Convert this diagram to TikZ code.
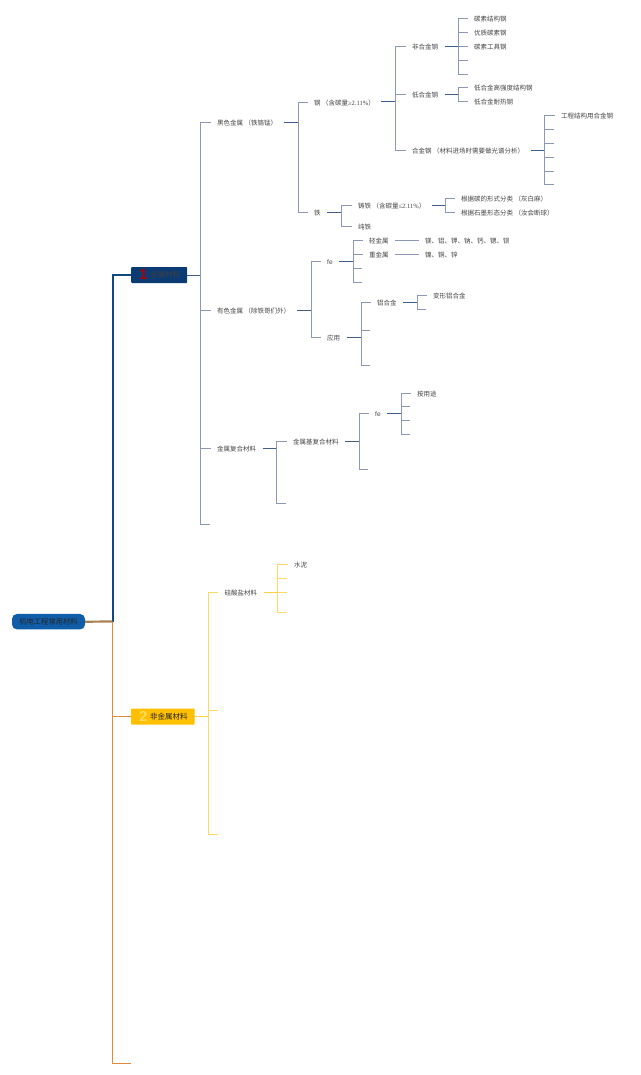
\documentclass[tikz,border=0pt]{standalone}
\usepackage{fontspec}
\setmainfont{Noto Sans CJK SC}
\newfontfamily\lsf{Liberation Sans}
\newfontfamily\lser{Liberation Serif}
\definecolor{tx}{HTML}{454545}
\definecolor{vl}{HTML}{8C98B4}
\definecolor{cn}{HTML}{3F5F8C}
\definecolor{navy}{HTML}{0F4A85}
\definecolor{org}{HTML}{E28A3A}
\definecolor{brn}{HTML}{A98252}
\definecolor{ylw}{HTML}{FFD966}
\definecolor{ylwd}{HTML}{FFCF40}
\definecolor{rootfill}{HTML}{0F5CA8}
\definecolor{b1fill}{HTML}{0B3B72}
\definecolor{b2fill}{HTML}{FFC000}
\tikzset{
 tn/.style={anchor=west,inner xsep=6.5pt,inner ysep=0pt,text height=6.4pt,text depth=0pt,font=\fontsize{6.5}{7}\selectfont,text=tx},
 sn/.style={inner sep=0pt,minimum size=0pt,outer sep=0pt},
 vline/.style={draw=vl,line width=.8pt},
 conn/.style={draw=cn,line width=1pt},
 yvline/.style={draw=ylw,line width=1pt},
 yconn/.style={draw=ylwd,line width=1pt},
 rootbox/.style={rounded corners=5pt,fill=rootfill,minimum height=15.5pt,minimum width=73pt,inner sep=0pt,font=\fontsize{7.3}{8}\selectfont,text=black!85},
 mbox/.style={anchor=west,rounded corners=.8pt,minimum height=16pt,inner sep=0pt,font=\fontsize{7.5}{8}\selectfont},
 numtxt/.style={inner sep=0pt,font=\lsf\bfseries\fontsize{14.5}{15}\selectfont},
}
\newcommand{\tnode}[4]{\node[tn] (#1) at (#2,#3) {#4};}
\newcommand{\snode}[3]{\node[sn] (#1) at (#2,#3) {};}
\newcommand{\branch}[4]{\coordinate (j#1) at (#2,#3);
 \draw[conn] (#1.east) -- (j#1);
 \foreach \c in {#4} \draw[vline] (j#1) |- (\c.west);}
\newcommand{\ybranch}[4]{\coordinate (j#1) at (#2,#3);
 \draw[yconn] (#1.east) -- (j#1);
 \foreach \c in {#4} \draw[yvline] (j#1) |- (\c.west);}
\begin{document}
\begin{tikzpicture}[x=1pt,y=-1pt]
\useasboundingbox (0,0) rectangle (640,1075);
\fill[white] (0,0) rectangle (640,1075);
% main boxes
\node[rootbox] (root) at (48.5,621.7) {机电工程常用材料};
\node[mbox,fill=b1fill,minimum width=56pt] (b1) at (131,275) {\hspace*{19pt}\textcolor{black!75}{金属材料}\hspace*{7pt}};
\node[numtxt,text=red!70!black] (n1) at (143.5,275) {1};
\node[mbox,fill=b2fill,minimum width=63.5pt] (b2) at (131,716.5) {\hspace*{19pt}\textcolor{black!85}{非金属材料}\hspace*{7pt}};
\node[numtxt,text=ylw] (n2) at (143.5,716.5) {2};
\snode{tend}{131}{1063.5}
\coordinate (tr) at (112.5,621.5);
\draw[draw=navy,line width=2pt] (tr) |- (b1.west);
\draw[draw=org,line width=1.1pt] (tr) |- (b2.west);
\draw[draw=org,line width=1.1pt] (tr) |- (tend.west);
\draw[draw=brn,line width=2.2pt] (root.east) -- (tr);
% level 1, metal
\tnode{hs}{210.5}{122.5}{黑色金属 （铁铬锰）}
\tnode{ys}{210.5}{310}{有色金属 （除铁哥们外）}
\tnode{fh}{210.5}{448.5}{金属复合材料}
\snode{fe0}{210}{524.5}
\branch{b1}{200.5}{275}{hs,ys,fh,fe0}
% steel and iron
\tnode{g}{307.5}{102}{钢 （含碳量{\lser≥2.11\%}）}
\tnode{t}{307.5}{212.5}{铁}
\branch{hs}{298}{122.5}{g,t}
\tnode{fhj}{405.5}{46.5}{非合金钢}
\tnode{dhj}{405.5}{94.5}{低合金钢}
\tnode{hj}{405.5}{150.5}{合金钢 （材料进场时需要做光谱分析）}
\branch{g}{395}{102}{fhj,dhj,hj}
\tnode{a1}{467.5}{18.5}{碳素结构钢}
\tnode{a2}{467.5}{32.5}{优质碳素钢}
\tnode{a3}{467.5}{46.5}{碳素工具钢}
\snode{a4}{468}{60}
\snode{a5}{468}{74}
\branch{fhj}{458}{46.5}{a1,a2,a3,a4,a5}
\tnode{c1}{467.5}{87.5}{低合金高强度结构钢}
\tnode{c2}{467.5}{101.5}{低合金耐热钢}
\branch{dhj}{458}{94.5}{c1,c2}
\tnode{d1}{554.5}{115.5}{工程结构用合金钢}
\snode{d2}{554}{129.5}
\snode{d3}{554}{143}
\snode{d4}{554}{157}
\snode{d5}{554}{171}
\snode{d6}{554}{184.5}
\branch{hj}{544.5}{150.5}{d1,d2,d3,d4,d5,d6}
\tnode{zt}{351.5}{205.5}{铸铁 （含碳量{\lser≤2.11\%}）}
\tnode{ct}{351.5}{226.5}{纯铁}
\branch{t}{341}{212.5}{zt,ct}
\tnode{e1}{454.5}{198.5}{根据碳的形式分类 （灰白麻）}
\tnode{e2}{454.5}{212.5}{根据石墨形态分类 （汝会断球）}
\branch{zt}{445}{205.5}{e1,e2}
% non-ferrous
\tnode{fea}{320.5}{261}{{\lsf fe}}
\tnode{yy}{320.5}{337.5}{应用}
\branch{ys}{311}{310}{fea,yy}
\tnode{qj}{362.5}{240.5}{轻金属}
\tnode{zj}{362.5}{254.5}{重金属}
\snode{f3}{362}{268}
\snode{f4}{362}{282}
\branch{fea}{353}{261}{qj,zj,f3,f4}
\tnode{qv}{418.5}{240.5}{镁、铝、钾、钠、钙、锶、钡}
\tnode{zv}{418.5}{254.5}{镍、铜、锌}
\draw[vline] (qj.east) -- (qv.west);
\draw[vline] (zj.east) -- (zv.west);
\tnode{lh}{370.5}{302.5}{铝合金}
\snode{g2}{370}{330.5}
\snode{g3}{370}{365}
\branch{yy}{361}{337.5}{lh,g2,g3}
\tnode{bx}{426.5}{295.5}{变形铝合金}
\snode{h2}{426}{309.5}
\branch{lh}{417}{302.5}{bx,h2}
% composite
\tnode{jf}{286.5}{441}{金属基复合材料}
\snode{i2}{286}{503.5}
\branch{fh}{276}{448.5}{jf,i2}
\tnode{feb}{368.5}{413.5}{{\lsf fe}}
\snode{k2}{368}{469}
\branch{jf}{359}{441}{feb,k2}
\tnode{ay}{410.5}{393}{按用途}
\snode{m2}{410}{406.5}
\snode{m3}{410}{420.5}
\snode{m4}{410}{434}
\branch{feb}{401}{413.5}{ay,m2,m3,m4}
% non-metal
\tnode{gs}{218}{592}{硅酸盐材料}
\snode{n2a}{218}{710}
\snode{n3a}{218}{834}
\ybranch{b2}{208}{716.5}{gs,n2a,n3a}
\tnode{sn1}{287.5}{564}{水泥}
\snode{p2}{287}{578}
\snode{p3}{287}{592}
\snode{p4}{287}{612.5}
\ybranch{gs}{277.5}{592}{sn1,p2,p3,p4}
\end{tikzpicture}
\end{document}
